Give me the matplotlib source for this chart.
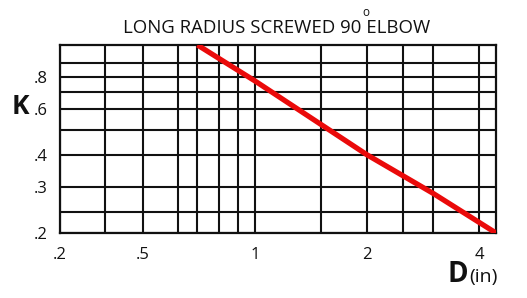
import numpy as np
import matplotlib
matplotlib.use("Agg")
from matplotlib import pyplot as plt
from matplotlib.ticker import FixedLocator, NullFormatter

plt.rcParams['font.family'] = ['Open Sans', 'DejaVu Sans']

# data
D = [0.7, 1.0, 2.0, 3.0, 4.44]
K = [1.06, 0.77, 0.40, 0.285, 0.2]

x_labels = ['.2', '.5', '1', '2', '4']
x_label_vals = [0.2, 0.5, 1, 2, 4]
x_grid = [0.33, 0.62, 0.7, 0.8, 0.9, 1.5, 2.5, 3]
y_labels = ['.2', '.3', '.4', '.6', '.8']
y_label_vals = [0.2, 0.3, 0.4, 0.6, 0.8]
y_grid = [0.24, 0.5, 0.7, 0.9]

# x axis is log above 0.5 and squeezed below it
LB = np.log10(0.5)
SQ = 0.561

def fwd(x):
    lx = np.log10(np.clip(np.asarray(x, dtype=float), 1e-9, None))
    return np.where(lx >= LB, lx, LB + SQ * (lx - LB))

def inv(y):
    y = np.asarray(y, dtype=float)
    return np.where(y >= LB, 10.0 ** y, 10.0 ** (LB + (y - LB) / SQ))

fig = plt.figure(figsize=(5.27, 2.98), dpi=100)
ax = fig.add_axes([60/527, 1-233/298, 436/527, 188/298])

ax.set_xscale('function', functions=(fwd, inv))
ax.set_yscale('log')
ax.set_xlim(0.2, 4.44)
ax.set_ylim(0.2, 1.06)

ax.xaxis.set_major_locator(FixedLocator(x_label_vals))
ax.xaxis.set_minor_locator(FixedLocator(x_grid))
ax.set_xticklabels(x_labels)
ax.xaxis.set_minor_formatter(NullFormatter())
ax.yaxis.set_major_locator(FixedLocator(y_label_vals))
ax.yaxis.set_minor_locator(FixedLocator(y_grid))
ax.set_yticklabels(y_labels)
ax.yaxis.set_minor_formatter(NullFormatter())

ax.tick_params(which='both', length=0, labelsize=12, colors='#111111')
ax.tick_params(axis='x', pad=10)
ax.tick_params(axis='y', pad=9)
for lab in ax.get_xticklabels()[:1]:
    lab.set_x(0.21)
ax.grid(True, which='both', color='#111111', lw=1.5)
for s in ax.spines.values():
    s.set_color('#111111')
    s.set_linewidth(1.6)

ax.plot(D, K, color='#ea0a0a', lw=3.8, solid_capstyle='butt', zorder=3)

fig.text(277/527, 1-33/298, 'LONG RADIUS SCREWED 90 ELBOW', ha='center', va='baseline',
         fontsize=13.4, color='#111111')
fig.text(366/527, 1-12/298, 'o', ha='center', va='center', fontsize=8.5, color='#111111')
fig.text(20/527, 1-106/298, 'K', ha='center', va='center', fontsize=19, fontweight='bold',
         color='#111111')
fig.text(468/527, 1-282/298, 'D', ha='right', va='baseline', fontsize=20, fontweight='bold',
         color='#111111')
fig.text(498/527, 1-282/298, '(in)', ha='right', va='baseline', fontsize=14, color='#111111')

fig.savefig('out.png', dpi=100)
